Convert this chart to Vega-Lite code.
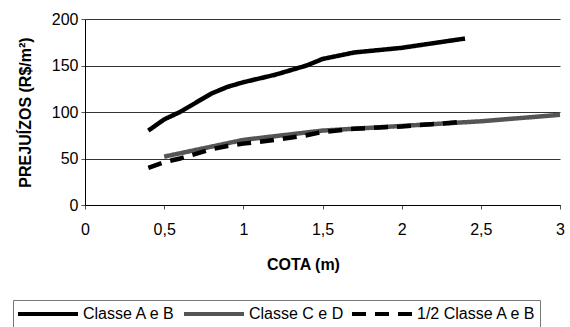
{
  "$schema": "https://vega.github.io/schema/vega-lite/v6.json",
  "width": 475,
  "height": 186,
  "autosize": "none",
  "padding": {"left": 85, "top": 19, "right": 10, "bottom": 122},
  "background": "white",
  "config": {
    "font": "Liberation Sans",
    "view": {"stroke": null},
    "axis": {"labelFont": "Liberation Sans", "titleFont": "Liberation Sans", "labelColor": "black", "titleColor": "black", "domainColor": "black", "tickColor": "#555"}
  },
  "data": {
    "values": [
      {"serie": "Classe A e B", "cota": 0.4, "prejuizo": 80},
      {"serie": "Classe A e B", "cota": 0.5, "prejuizo": 92},
      {"serie": "Classe A e B", "cota": 0.6, "prejuizo": 100},
      {"serie": "Classe A e B", "cota": 0.7, "prejuizo": 110},
      {"serie": "Classe A e B", "cota": 0.8, "prejuizo": 120},
      {"serie": "Classe A e B", "cota": 0.9, "prejuizo": 127},
      {"serie": "Classe A e B", "cota": 1.0, "prejuizo": 132},
      {"serie": "Classe A e B", "cota": 1.2, "prejuizo": 140},
      {"serie": "Classe A e B", "cota": 1.4, "prejuizo": 150},
      {"serie": "Classe A e B", "cota": 1.5, "prejuizo": 157},
      {"serie": "Classe A e B", "cota": 1.7, "prejuizo": 164},
      {"serie": "Classe A e B", "cota": 2.0, "prejuizo": 169},
      {"serie": "Classe A e B", "cota": 2.4, "prejuizo": 179},
      {"serie": "Classe C e D", "cota": 0.5, "prejuizo": 52},
      {"serie": "Classe C e D", "cota": 1.0, "prejuizo": 70},
      {"serie": "Classe C e D", "cota": 1.5, "prejuizo": 80},
      {"serie": "Classe C e D", "cota": 2.0, "prejuizo": 85},
      {"serie": "Classe C e D", "cota": 2.5, "prejuizo": 90},
      {"serie": "Classe C e D", "cota": 3.0, "prejuizo": 97},
      {"serie": "1/2 Classe A e B", "cota": 0.4, "prejuizo": 40},
      {"serie": "1/2 Classe A e B", "cota": 0.5, "prejuizo": 46},
      {"serie": "1/2 Classe A e B", "cota": 0.6, "prejuizo": 50},
      {"serie": "1/2 Classe A e B", "cota": 0.7, "prejuizo": 55},
      {"serie": "1/2 Classe A e B", "cota": 0.8, "prejuizo": 60},
      {"serie": "1/2 Classe A e B", "cota": 0.9, "prejuizo": 63.5},
      {"serie": "1/2 Classe A e B", "cota": 1.0, "prejuizo": 66},
      {"serie": "1/2 Classe A e B", "cota": 1.2, "prejuizo": 70},
      {"serie": "1/2 Classe A e B", "cota": 1.4, "prejuizo": 75},
      {"serie": "1/2 Classe A e B", "cota": 1.5, "prejuizo": 78.5},
      {"serie": "1/2 Classe A e B", "cota": 1.7, "prejuizo": 82},
      {"serie": "1/2 Classe A e B", "cota": 2.0, "prejuizo": 84.5},
      {"serie": "1/2 Classe A e B", "cota": 2.4, "prejuizo": 89.5}
    ]
  },
  "mark": {"type": "line", "strokeWidth": 4.5, "strokeCap": "butt"},
  "encoding": {
    "x": {
      "field": "cota", "type": "quantitative",
      "scale": {"domain": [0, 3], "nice": false},
      "axis": {
        "values": [0, 0.5, 1, 1.5, 2, 2.5, 3],
        "labelExpr": "replace(toString(datum.value), '.', ',')",
        "labelFlush": false,
        "grid": false, "tickSize": 4, "labelPadding": 12, "labelFontSize": 16,
        "title": "COTA (m)", "titleFontSize": 16, "titleFontWeight": "bold",
        "titleX": 218, "titleY": 59, "titleBaseline": "middle"
      }
    },
    "y": {
      "field": "prejuizo", "type": "quantitative",
      "scale": {"domain": [0, 200], "nice": false},
      "axis": {
        "values": [0, 50, 100, 150, 200],
        "grid": true, "gridColor": "#333", "gridWidth": 1,
        "tickSize": 4, "labelPadding": 3, "labelFontSize": 16,
        "title": "PREJUÍZOS (R$/m²)", "titleFontSize": 16, "titleFontWeight": "bold",
        "titleX": -60, "titleBaseline": "middle"
      }
    },
    "detail": {"field": "serie"},
    "color": {
      "field": "serie", "type": "nominal",
      "scale": {"domain": ["Classe A e B", "Classe C e D", "1/2 Classe A e B"], "range": ["#000000", "#555555", "#000000"]},
      "legend": {
        "orient": "none", "legendX": -72, "legendY": 281, "direction": "horizontal",
        "title": null, "clipHeight": 22,
        "symbolType": "stroke", "symbolSize": 3600, "symbolStrokeWidth": 4,
        "labelFontSize": 16, "labelColor": "black", "labelOffset": 3, "columnPadding": 6,
        "padding": 3, "strokeColor": "#777", "fillColor": "white"
      }
    },
    "strokeDash": {
      "field": "serie", "type": "nominal",
      "scale": {"domain": ["Classe A e B", "Classe C e D", "1/2 Classe A e B"], "range": [[1, 0], [1, 0], [14, 9]]},
      "legend": null
    }
  }
}
